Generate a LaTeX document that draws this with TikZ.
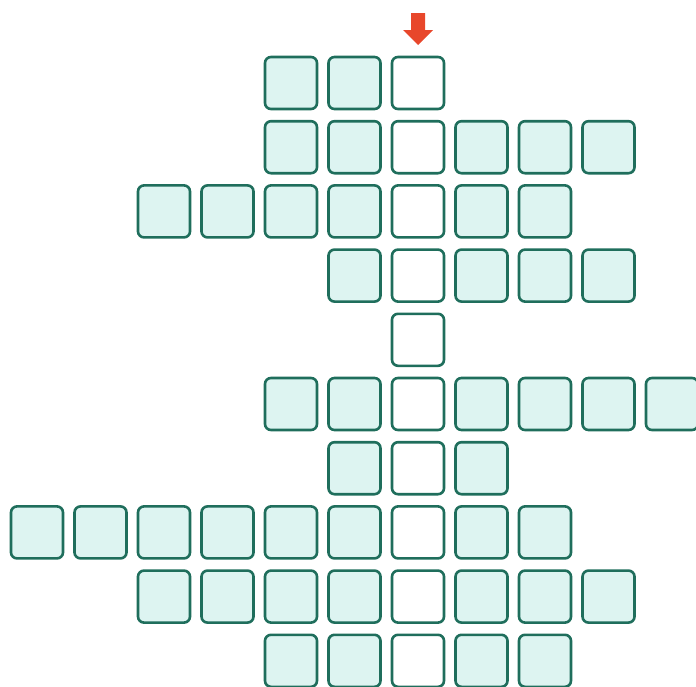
\documentclass[tikz,border=0pt]{standalone}
\usepackage{xcolor}
\usepackage{tikz}
\usetikzlibrary{positioning}

\definecolor{cellfill}{HTML}{DDF4F1}
\definecolor{celldraw}{HTML}{1F6E5C}
\definecolor{arrowred}{HTML}{E8472B}

\begin{document}
\begin{tikzpicture}[x=1pt, y=-1pt,
    cell/.style={draw=celldraw, line width=2.6pt, rounded corners=6pt,
                 minimum size=52pt, inner sep=0pt, fill=cellfill},
    key/.style={cell, fill=white}
  ]
  \useasboundingbox (0,0) rectangle (696,686);
  \clip (0,0) rectangle (696,686);

  % rows: row / first column / last column
  \foreach \r/\a/\b in {0/4/6, 1/4/9, 2/2/8, 3/5/9, 4/6/6,
                        5/4/10, 6/5/7, 7/0/8, 8/2/9, 9/4/8}
    \foreach \c in {\a,...,\b} {
      \ifnum\c=6 \def\sty{key}\else\def\sty{cell}\fi
      \node[\sty] (c\r-\c) at ({37+63.5*\c}, {83+64.2*\r}) {};
    }

  % marker above the key column
  \fill[arrowred] (411,13) -- (425,13) -- (425,30) -- (433,30)
    -- (418,45) -- (403,30) -- (411,30) -- cycle;
\end{tikzpicture}
\end{document}
